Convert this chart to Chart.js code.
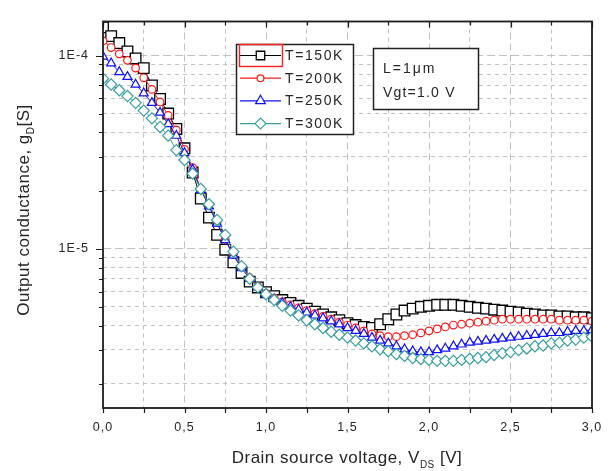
<!DOCTYPE html>
<html>
<head>
<meta charset="utf-8">
<script src="https://cdn.jsdelivr.net/npm/chart.js@4.4.1/dist/chart.umd.min.js"></script>
<style>
  html, body { margin: 0; padding: 0; background: #ffffff; }
  #wrap { width: 616px; height: 471px; }
</style>
</head>
<body>
<div id="wrap"><canvas id="chart" width="616" height="471"></canvas></div>
<script>
// Drain-source voltage sweep [V]
const vds = [0.00,0.05,0.10,0.15,0.20,0.25,0.30,0.35,0.40,0.45,0.50,0.55,0.60,0.65,0.70,0.75,0.80,0.85,0.90,0.95,
             1.00,1.05,1.10,1.15,1.20,1.25,1.30,1.35,1.40,1.45,1.50,1.55,1.60,1.65,1.70,1.75,1.80,1.85,1.90,1.95,
             2.00,2.05,2.10,2.15,2.20,2.25,2.30,2.35,2.40,2.45,2.50,2.55,2.60,2.65,2.70,2.75,2.80,2.85,2.90,2.95,3.00];

// Output conductance g_D [S] at each temperature
const gd150K = [1.40e-4,1.26e-4,1.16e-4,1.05e-4,9.66e-5,8.61e-5,7.00e-5,5.96e-5,5.01e-5,4.17e-5,
                3.31e-5,2.48e-5,1.82e-5,1.45e-5,1.18e-5,9.89e-6,8.51e-6,7.50e-6,6.76e-6,6.31e-6,
                5.96e-6,5.69e-6,5.43e-6,5.25e-6,5.07e-6,4.90e-6,4.73e-6,4.57e-6,4.42e-6,4.27e-6,
                4.12e-6,4.03e-6,3.94e-6,3.89e-6,4.07e-6,4.32e-6,4.57e-6,4.79e-6,4.90e-6,5.01e-6,
                5.07e-6,5.13e-6,5.13e-6,5.13e-6,5.07e-6,5.01e-6,4.95e-6,4.90e-6,4.84e-6,4.79e-6,
                4.73e-6,4.68e-6,4.62e-6,4.57e-6,4.52e-6,4.52e-6,4.47e-6,4.47e-6,4.42e-6,4.42e-6,4.37e-6];

const gd200K = [1.19e-4,1.10e-4,1.02e-4,9.44e-5,8.61e-5,7.67e-5,6.68e-5,5.75e-5,4.90e-5,4.12e-5,
                3.27e-5,2.63e-5,2.04e-5,1.68e-5,1.37e-5,1.12e-5,9.33e-6,8.04e-6,7.08e-6,6.38e-6,
                5.89e-6,5.56e-6,5.31e-6,5.13e-6,4.95e-6,4.79e-6,4.62e-6,4.47e-6,4.32e-6,4.17e-6,
                4.03e-6,3.89e-6,3.76e-6,3.63e-6,3.55e-6,3.51e-6,3.51e-6,3.55e-6,3.59e-6,3.67e-6,
                3.76e-6,3.85e-6,3.94e-6,4.03e-6,4.07e-6,4.12e-6,4.17e-6,4.22e-6,4.27e-6,4.32e-6,
                4.32e-6,4.32e-6,4.32e-6,4.32e-6,4.32e-6,4.32e-6,4.27e-6,4.27e-6,4.27e-6,4.27e-6,4.22e-6];

const gd250K = [9.89e-5,9.12e-5,8.22e-5,7.76e-5,7.08e-5,6.38e-5,5.69e-5,5.07e-5,4.42e-5,3.85e-5,
                3.13e-5,2.57e-5,2.02e-5,1.66e-5,1.35e-5,1.11e-5,9.23e-6,7.94e-6,7.00e-6,6.31e-6,
                5.82e-6,5.49e-6,5.25e-6,5.01e-6,4.84e-6,4.68e-6,4.52e-6,4.37e-6,4.22e-6,4.07e-6,
                3.89e-6,3.76e-6,3.63e-6,3.47e-6,3.35e-6,3.24e-6,3.13e-6,3.02e-6,2.95e-6,2.92e-6,
                2.92e-6,2.99e-6,3.05e-6,3.13e-6,3.20e-6,3.27e-6,3.31e-6,3.35e-6,3.39e-6,3.43e-6,
                3.47e-6,3.51e-6,3.55e-6,3.59e-6,3.63e-6,3.67e-6,3.67e-6,3.72e-6,3.76e-6,3.76e-6,3.80e-6];

const gd300K = [7.59e-5,7.08e-5,6.61e-5,6.17e-5,5.69e-5,5.19e-5,4.73e-5,4.27e-5,3.85e-5,3.24e-5,
                2.88e-5,2.45e-5,2.04e-5,1.70e-5,1.41e-5,1.18e-5,9.66e-6,8.13e-6,7.00e-6,6.31e-6,
                5.82e-6,5.43e-6,5.07e-6,4.79e-6,4.52e-6,4.27e-6,4.07e-6,3.89e-6,3.72e-6,3.59e-6,
                3.47e-6,3.35e-6,3.24e-6,3.13e-6,3.02e-6,2.95e-6,2.85e-6,2.79e-6,2.72e-6,2.69e-6,
                2.66e-6,2.63e-6,2.63e-6,2.63e-6,2.66e-6,2.69e-6,2.72e-6,2.75e-6,2.82e-6,2.88e-6,
                2.92e-6,2.99e-6,3.05e-6,3.13e-6,3.16e-6,3.24e-6,3.27e-6,3.35e-6,3.39e-6,3.47e-6,3.51e-6];

const seriesLabels = ['T=150K', 'T=200K', 'T=250K', 'T=300K'];

// Axis ticks
const xTickLabels = ['0,0', '0,5', '1,0', '1,5', '2,0', '2,5', '3,0'];
const yTicks = [2e-6,3e-6,4e-6,5e-6,6e-6,7e-6,8e-6,9e-6,1e-5,
                2e-5,3e-5,4e-5,5e-5,6e-5,7e-5,8e-5,9e-5,1e-4];
const yMajorTicks = [1e-5, 1e-4];
const yMajorLabels = ['1E-5', '1E-4'];

const FONT = "'Liberation Sans', Arial, sans-serif";
const TEXT = '#262626';
const FRAME = '#1c1c1c';
const GRID = '#c2c2c2';

const styles = [
  { color: '#000000', pointStyle: 'rect',     radius: 7.5, bw: 1.3, order: 4 },
  { color: '#ff1a1a', pointStyle: 'circle',   radius: 3.8, bw: 1.2, order: 3 },
  { color: '#1010ff', pointStyle: 'triangle', radius: 5.2, bw: 1.2, order: 2 },
  { color: '#3a9e9e', pointStyle: 'rectRot',  radius: 5.6, bw: 1.2, order: 1 }
];
const seriesValues = [gd150K, gd200K, gd250K, gd300K];

const datasets = seriesValues.map((vals, i) => ({
  label: seriesLabels[i],
  data: vds.map((v, k) => ({ x: v, y: vals[k] })),
  borderColor: styles[i].color,
  borderWidth: 1,
  backgroundColor: '#ffffff',
  pointStyle: styles[i].pointStyle,
  pointRadius: styles[i].radius,
  pointBorderWidth: styles[i].bw,
  pointBorderColor: styles[i].color,
  pointBackgroundColor: '#ffffff',
  tension: 0,
  order: styles[i].order
}));

const isHalf = v => Math.abs(v * 2 - Math.round(v * 2)) < 1e-6;
const isYMajor = v => yMajorTicks.some(m => Math.abs(v / m - 1) < 1e-6);

function drawMarker(ctx, style, x, y, r) {
  ctx.beginPath();
  if (style === 'rect') {
    const s = Math.SQRT1_2 * r;
    ctx.rect(x - s, y - s, 2 * s, 2 * s);
  } else if (style === 'circle') {
    ctx.arc(x, y, r, 0, Math.PI * 2);
  } else if (style === 'triangle') {
    const a = 2 * Math.PI / 3;
    ctx.moveTo(x, y - r);
    ctx.lineTo(x + r * Math.sin(a), y - r * Math.cos(a));
    ctx.lineTo(x + r * Math.sin(2 * a), y - r * Math.cos(2 * a));
    ctx.closePath();
  } else {
    ctx.moveTo(x - r, y);
    ctx.lineTo(x, y - r);
    ctx.lineTo(x + r, y);
    ctx.lineTo(x, y + r);
    ctx.closePath();
  }
  ctx.fill();
  ctx.stroke();
}

// text made of runs, some of them subscripts; centred on x, baseline y
function drawRuns(ctx, runs, x, y) {
  let total = 0;
  runs.forEach(r => { ctx.font = r.size + 'px ' + FONT; r.w = ctx.measureText(r.t).width; total += r.w; });
  let cx = x - total / 2;
  ctx.textAlign = 'left';
  ctx.textBaseline = 'alphabetic';
  runs.forEach(r => {
    ctx.font = r.size + 'px ' + FONT;
    ctx.fillText(r.t, cx, y + (r.dy || 0));
    cx += r.w;
  });
}

const decor = {
  id: 'decor',
  beforeDraw(chart) {
    chart.ctx.letterSpacing = '1px';
  },
  afterDraw(chart) {
    const { ctx, chartArea: a, scales: { x, y } } = chart;
    ctx.save();
    ctx.letterSpacing = '0px';

    // tick marks
    ctx.strokeStyle = FRAME;
    ctx.lineWidth = 1.2;
    ctx.beginPath();
    x.ticks.forEach(t => {
      const px = Math.round(x.getPixelForValue(t.value)) + 0.5;
      const major = isHalf(t.value);
      ctx.moveTo(px, a.bottom); ctx.lineTo(px, a.bottom + 5);
      ctx.moveTo(px, a.top); ctx.lineTo(px, a.top + (major ? 6 : 4));
    });
    y.ticks.forEach(t => {
      const py = Math.round(y.getPixelForValue(t.value)) + 0.5;
      ctx.moveTo(a.left - (isYMajor(t.value) ? 7 : 4), py); ctx.lineTo(a.left, py);
    });
    ctx.stroke();

    // plot frame
    ctx.lineWidth = 1.8;
    ctx.strokeRect(a.left, a.top, a.right - a.left, a.bottom - a.top);

    // legend
    const lg = { x: 236, y: 44, w: 117, h: 90 };
    ctx.fillStyle = '#ffffff';
    ctx.fillRect(lg.x, lg.y, lg.w, lg.h);
    ctx.lineWidth = 1.5;
    ctx.strokeStyle = '#222222';
    ctx.strokeRect(lg.x + 0.5, lg.y + 0.5, lg.w, lg.h);
    const legendR = [6, 3.4, 5.6, 5.4];
    chart.data.datasets.forEach((ds, i) => {
      const ly = 55.5 + i * 22.7;
      ctx.strokeStyle = ds.borderColor;
      ctx.lineWidth = 1.2;
      ctx.beginPath(); ctx.moveTo(240, ly); ctx.lineTo(281, ly); ctx.stroke();
      ctx.fillStyle = '#ffffff';
      ctx.lineWidth = ds.pointBorderWidth;
      drawMarker(ctx, ds.pointStyle, 260.5, ly, legendR[i]);
      ctx.fillStyle = TEXT;
      ctx.font = '14px ' + FONT;
      ctx.letterSpacing = '1.6px';
      ctx.textAlign = 'left';
      ctx.textBaseline = 'middle';
      ctx.fillText(ds.label, 285, ly + 0.5);
      ctx.letterSpacing = '0px';
    });
    // highlight around the first legend entry
    ctx.strokeStyle = '#ff2020';
    ctx.lineWidth = 1.4;
    ctx.strokeRect(239.5, 44.5, 43, 22);

    // parameter note
    ctx.fillStyle = '#ffffff';
    ctx.fillRect(373, 48, 105, 61);
    ctx.strokeStyle = '#222222';
    ctx.lineWidth = 1.5;
    ctx.strokeRect(373.5, 48.5, 105, 61);
    ctx.fillStyle = TEXT;
    ctx.font = '14px ' + FONT;
    ctx.letterSpacing = '2px';
    ctx.textAlign = 'left';
    ctx.textBaseline = 'middle';
    ctx.fillText('L=1\u03bcm', 383, 69);
    ctx.letterSpacing = '1.2px';
    ctx.fillText('Vgt=1.0 V', 383, 93);
    ctx.letterSpacing = '0.5px';

    // axis titles
    ctx.fillStyle = TEXT;
    drawRuns(ctx, [
      { t: 'Drain source voltage, V', size: 17 },
      { t: 'DS', size: 10, dy: 5 },
      { t: ' [V]', size: 17 }
    ], 347, 463);

    ctx.save();
    ctx.translate(29, 210);
    ctx.rotate(-Math.PI / 2);
    drawRuns(ctx, [
      { t: 'Output conductance, g', size: 17 },
      { t: 'D', size: 10, dy: 5 },
      { t: '[S]', size: 17 }
    ], 0, 0);
    ctx.restore();

    ctx.restore();
  }
};

new Chart(document.getElementById('chart'), {
  type: 'line',
  data: { datasets },
  options: {
    responsive: false,
    animation: false,
    devicePixelRatio: 1,
    events: [],
    layout: { padding: { left: 0, right: 24, top: 9, bottom: 0 } },
    plugins: { legend: { display: false }, tooltip: { enabled: false } },
    scales: {
      x: {
        type: 'linear',
        min: 0, max: 3,
        afterFit: s => { s.height = 63; },
        ticks: {
          stepSize: 0.25,
          autoSkip: false,
          maxRotation: 0,
          padding: 12,
          color: TEXT,
          font: { family: FONT, size: 12.5 },
          callback: v => isHalf(v) ? xTickLabels[Math.round(v * 2)] : ''
        },
        grid: {
          drawTicks: false,
          lineWidth: 1,
          color: c => (c.tick && (c.tick.value <= 0 || c.tick.value >= 3)) ? 'rgba(0,0,0,0)' : GRID
        },
        border: {
          display: false,
          dash: c => (c.tick && isHalf(c.tick.value)) ? [7, 4] : [4, 4]
        }
      },
      y: {
        type: 'logarithmic',
        min: 1.5e-6, max: 1.5e-4,
        afterFit: s => { s.width = 103; },
        afterBuildTicks: s => { s.ticks = yTicks.map(v => ({ value: v, major: isYMajor(v) })); },
        ticks: {
          autoSkip: false,
          padding: 14,
          color: TEXT,
          font: { family: FONT, size: 12.5 },
          callback: v => {
            const k = yMajorTicks.findIndex(m => Math.abs(v / m - 1) < 1e-6);
            return k >= 0 ? yMajorLabels[k] : '';
          }
        },
        grid: { drawTicks: false, lineWidth: 1, color: GRID },
        border: {
          display: false,
          dash: c => (c.tick && isYMajor(c.tick.value)) ? [8, 4] : [4, 4]
        }
      }
    }
  },
  plugins: [decor]
});
</script>
</body>
</html>
